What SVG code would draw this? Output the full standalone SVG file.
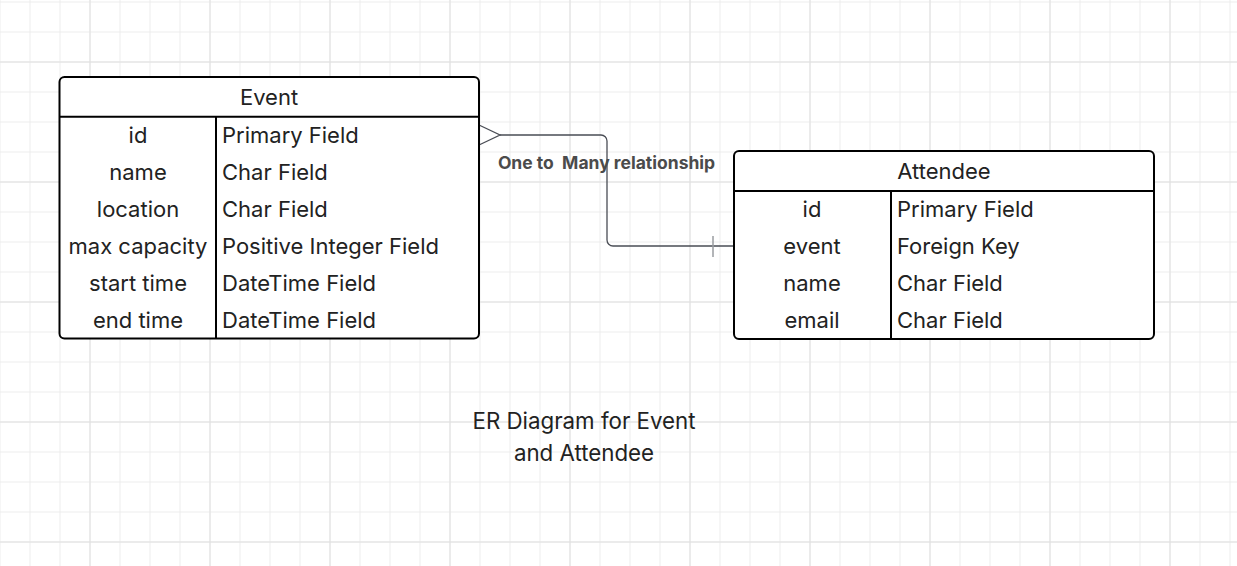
<svg xmlns="http://www.w3.org/2000/svg" width="1237" height="566" viewBox="0 0 1237 566">
<defs>
<pattern id="minor" x="29.5" y="1.5" width="30" height="30" patternUnits="userSpaceOnUse">
<path d="M0 0.5H30M0.5 0V30" fill="none" stroke="#ececec" stroke-width="1"/>
</pattern>
<pattern id="major" x="89.5" y="61.5" width="120" height="120" patternUnits="userSpaceOnUse">
<path d="M0 0.5H120M0.5 0V120" fill="none" stroke="#e0e0e0" stroke-width="1"/>
</pattern>
<style>
.box{fill:#fff;stroke:#000;stroke-width:2}
.sep{stroke:#000;stroke-width:2;fill:none}
.t{font-family:Inter,"Liberation Sans",sans-serif;font-size:22px;fill:#222;dominant-baseline:central}
.c{text-anchor:middle}
.conn{fill:none;stroke:#4a4d55;stroke-width:1.3}
.lbl{font-family:Inter,"Liberation Sans",sans-serif;font-size:17.5px;font-weight:bold;fill:#4b4b4b;text-anchor:middle;dominant-baseline:central;white-space:pre}
.title{font-family:Inter,"Liberation Sans",sans-serif;font-size:22.3px;fill:#222;text-anchor:middle}
</style>
</defs>
<rect width="1237" height="566" fill="#fff"/>
<rect width="1237" height="566" fill="url(#minor)"/>
<rect width="1237" height="566" fill="url(#major)"/>

<g id="connectors">
<path class="conn" d="M500 135H601a6 6 0 0 1 6 6V240a6 6 0 0 0 6 6H733"/>
<path class="conn" d="M479 125L500 135L479 145"/>
<path d="M713 236V257" stroke="#9a9ca0" stroke-width="1.5"/>
<text class="lbl" x="606.5" y="162" xml:space="preserve">One to  Many relationship</text>
</g>

<g id="event">
<rect class="box" x="59.5" y="77" width="419.5" height="261.5" rx="5"/>
<path class="sep" d="M59.5 116.7H479M216 116.7V338.5"/>
<text class="t c" x="269" y="97">Event</text>
<text class="t c" x="138" y="135">id</text>
<text class="t" x="222" y="135">Primary Field</text>
<text class="t c" x="138" y="172">name</text>
<text class="t" x="222" y="172">Char Field</text>
<text class="t c" x="138" y="209">location</text>
<text class="t" x="222" y="209">Char Field</text>
<text class="t c" x="138" y="246">max capacity</text>
<text class="t" x="222" y="246">Positive Integer Field</text>
<text class="t c" x="138" y="283">start time</text>
<text class="t" x="222" y="283">DateTime Field</text>
<text class="t c" x="138" y="320">end time</text>
<text class="t" x="222" y="320">DateTime Field</text>
</g>

<g id="attendee">
<rect class="box" x="734" y="151" width="420" height="188" rx="5"/>
<path class="sep" d="M734 191H1154M891 191V339"/>
<text class="t c" x="944" y="171">Attendee</text>
<text class="t c" x="812" y="209">id</text>
<text class="t" x="897" y="209">Primary Field</text>
<text class="t c" x="812" y="246">event</text>
<text class="t" x="897" y="246">Foreign Key</text>
<text class="t c" x="812" y="283">name</text>
<text class="t" x="897" y="283">Char Field</text>
<text class="t c" x="812" y="320">email</text>
<text class="t" x="897" y="320">Char Field</text>
</g>

<g id="title">
<text class="title" x="584" y="429">ER Diagram for Event</text>
<text class="title" x="584" y="461">and Attendee</text>
</g>
</svg>
